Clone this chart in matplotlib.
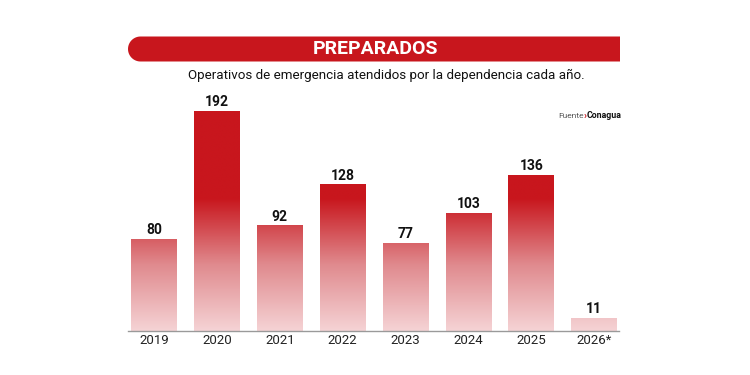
import matplotlib
matplotlib.use("Agg")
import matplotlib.pyplot as plt
import numpy as np
from matplotlib.colors import LinearSegmentedColormap
from matplotlib.patches import Polygon

years = ["2019", "2020", "2021", "2022", "2023", "2024", "2025", "2026*"]
values = [80, 192, 92, 128, 77, 103, 136, 11]
title = "PREPARADOS"
subtitle = "Operativos de emergencia atendidos por la dependencia cada año."

plt.rcParams['font.family'] = ['Roboto', 'DejaVu Sans']

RED = "#c8161d"
cmap = LinearSegmentedColormap.from_list("g", ["#f5d3d5", "#e08a8e", "#c8161d"])

fig = plt.figure(figsize=(7.5, 3.75), dpi=100)
W, H = 750, 375
ax_left, ax_right, ax_bottom, ax_top = 128, 619, 331, 100
ax = fig.add_axes([ax_left / W, 1 - ax_bottom / H, (ax_right - ax_left) / W, (ax_bottom - ax_top) / H])
ppu = 1.142
ymax = (ax_bottom - ax_top) / ppu

x = np.arange(len(values))
bw = 0.727
full = 116.0
for xi, v in zip(x, values):
    yy = np.linspace(0, v, 200)
    grad = np.clip(yy / full, 0, 1)[:, None]
    ax.imshow(grad, cmap=cmap, vmin=0, vmax=1, aspect='auto', origin='lower',
              extent=(xi - bw / 2, xi + bw / 2, 0, v), zorder=2, interpolation='bilinear')
    ax.text(xi, v + 2, str(v), ha='center', va='bottom', fontsize=10, fontweight='bold',
            color='#111111', zorder=4)
ax.set_xlim(-0.413, 7.394)
ax.set_ylim(0, ymax)

for s in ['top', 'right', 'left']:
    ax.spines[s].set_visible(False)
ax.spines['bottom'].set_color('#9a9a9a')
ax.spines['bottom'].set_linewidth(1.0)
ax.set_yticks([])
ax.set_xticks(x)
ax.set_xticklabels(years, fontsize=9.5, color='#222222')
ax.tick_params(axis='x', length=0, pad=2)

# Header banner: rounded left side, square right side (figure pixel coords)
bx0, bx1, by0, by1 = 128, 620, 36.5, 61.5
rad = (by1 - by0) / 2
cy = H - (by0 + by1) / 2
th = np.linspace(np.pi / 2, 3 * np.pi / 2, 40)
arc = np.column_stack([bx0 + rad + rad * np.cos(th), cy + rad * np.sin(th)])
verts = np.vstack([[[bx1, H - by0]], arc, [[bx1, H - by1]]])
banner = Polygon(verts / [W, H], closed=True, transform=fig.transFigure,
                 facecolor=RED, edgecolor='none')
fig.patches.append(banner)

fig.text(375 / W, 1 - 49 / H, title, ha='center', va='center', color='white',
         fontsize=14, fontweight='bold')
fig.text(386 / W, 1 - 75 / H, subtitle, ha='center', va='center', color='#111111', fontsize=9.6)

# Source
yy_s = 1 - 115.5 / H
t1 = fig.text(558 / W, yy_s, "Fuente", ha='left', va='center', fontsize=6, color='#555555')
fig.canvas.draw()
r = fig.canvas.get_renderer()
bb = t1.get_window_extent(r)
t2 = fig.text(bb.x1 / W, yy_s, "›", ha='left', va='center', fontsize=7, color=RED, fontweight='bold')
bb2 = t2.get_window_extent(r)
fig.text(bb2.x1 / W, yy_s, "Conagua", ha='left', va='center', fontsize=6.3, color='#111111', fontweight='bold')

fig.savefig("out.png", dpi=100, facecolor='white')
